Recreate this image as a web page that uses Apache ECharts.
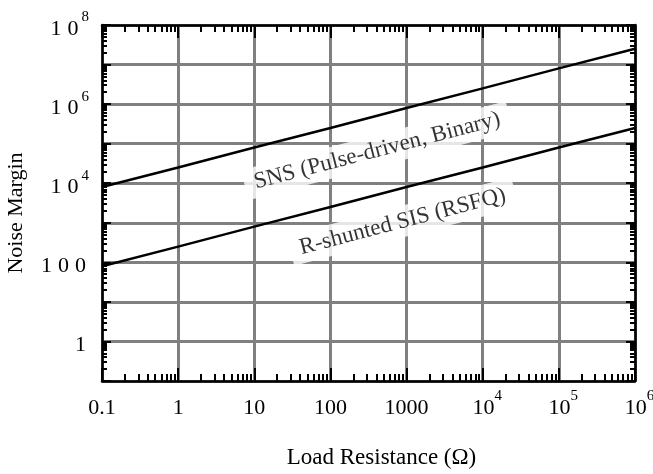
<!DOCTYPE html>
<html>
<head>
<meta charset="utf-8">
<script src="https://cdn.jsdelivr.net/npm/echarts@6/dist/echarts.min.js"></script>
<style>
html, body { margin: 0; padding: 0; background: #fff; }
#chart { width: 653px; height: 474px; }
</style>
</head>
<body>
<div id="chart"></div>
<script>
var resistance = [0.1, 1, 10, 100, 1000, 1e4, 1e5, 1e6];
var snsMargin = [8000, 25000, 80000, 250000, 800000, 2.5e6, 8e6, 2.5e7];
var sisMargin = [80, 250, 800, 2500, 8000, 25000, 80000, 250000];

var curveNames = ['SNS (Pulse-driven, Binary)', 'R-shunted SIS (RSFQ)'];
var curveLabelAt = [[410, 66000], [890, 1070]];

// tick labels per decade, first one is 10^-1
var xTickLabels = ['0.1', '1', '10', '100', '1000', '10^4', '10^5', '10^6'];
var yTickLabels = ['', '1', '', '100', '', '10^4', '', '10^6', '', '10^8'];
var minorSteps = [2, 3, 4, 5, 6, 7, 8, 9];

var font = 'Liberation Serif';

// minor log ticks, in log10 units for the overlay value axes
function minorTicks(fromExp, toExp) {
    var out = [];
    for (var e = fromExp; e < toExp; e++) {
        minorSteps.forEach(function (m) {
            out.push(e + Math.log10(m));
        });
    }
    return out;
}

function toRich(txt, digitStyle) {
    var parts = txt.split('^');
    var base = parts[0];
    var s = '';
    if (digitStyle == 'd') {
        for (var i = 0; i < base.length; i++) s += '{d|' + base[i] + '}';
    } else {
        if (parts[1]) s += '{g|}';
        s += '{n|' + base + '}';
    }
    if (parts[1]) s += '{sup|' + parts[1] + '}';
    return s;
}

function expOf(v) {
    return Math.round(Math.log10(v));
}

var tickLine = { color: '#000', width: 2 };
var frameLine = { show: true, onZero: false, lineStyle: { color: '#000', width: 2.5 } };

var xRich = {
    n: { fontFamily: font, fontSize: 22, color: '#000', lineHeight: 30, verticalAlign: 'bottom' },
    sup: { fontFamily: font, fontSize: 15, color: '#000', verticalAlign: 'top' },
    g: { width: 9 }
};
var yRich = {
    d: { fontFamily: font, fontSize: 22, color: '#000', width: 17, align: 'center', lineHeight: 30, verticalAlign: 'bottom' },
    sup: { fontFamily: font, fontSize: 15, color: '#000', verticalAlign: 'top' }
};

function logAxis(pos, min, max, labels, rich, digitStyle) {
    return {
        type: 'log',
        logBase: 10,
        min: min,
        max: max,
        splitNumber: 10,
        position: pos,
        axisLine: frameLine,
        axisTick: { show: true, inside: true, length: 13, lineStyle: tickLine },
        splitLine: { show: false },
        axisLabel: labels ? {
            show: true,
            showMinLabel: true,
            showMaxLabel: true,
            rich: rich,
            formatter: function (v) {
                var t = labels[expOf(v) - expOf(min)];
                return t ? toRich(t, digitStyle) : '';
            }
        } : { show: false }
    };
}

function minorAxis(pos, fromExp, toExp) {
    return {
        type: 'value',
        min: fromExp,
        max: toExp,
        position: pos,
        axisLine: { show: false, onZero: false },
        axisTick: { show: true, inside: true, length: 7, customValues: minorTicks(fromExp, toExp), lineStyle: tickLine },
        axisLabel: { show: false },
        splitLine: { show: false }
    };
}

var xMain = logAxis('bottom', 0.1, 1e6, xTickLabels, xRich, 'n');
xMain.axisLabel.margin = 8;
xMain.splitLine = { show: true, lineStyle: { color: '#808080', width: 3 } };
xMain.name = 'Load Resistance (\u03A9)';
xMain.nameLocation = 'middle';
xMain.nameGap = 65;
xMain.nameTextStyle = { fontFamily: font, fontSize: 23, color: '#000', padding: [0, 0, 0, 26] };

var yMain = logAxis('left', 0.1, 1e8, yTickLabels, yRich, 'd');
yMain.axisLabel.margin = 13;
yMain.axisTick.length = 9;
yMain.splitLine = { show: true, lineStyle: { color: '#808080', width: 3 } };
yMain.name = 'Noise Margin';
yMain.nameLocation = 'middle';
yMain.nameGap = 73;
yMain.nameTextStyle = { fontFamily: font, fontSize: 22, color: '#000', padding: [0, 20, 0, 0] };

var yRight = logAxis('right', 0.1, 1e8, null);
yRight.axisTick.length = 9;
var yMinorL = minorAxis('left', -1, 8);
var yMinorR = minorAxis('right', -1, 8);
yMinorL.axisTick.length = 5;
yMinorR.axisTick.length = 5;

var chart = echarts.init(document.getElementById('chart'));
var option = {
    animation: false,
    backgroundColor: '#fff',
    grid: { left: 102, right: 18, top: 25, bottom: 93, containLabel: false, outerBoundsMode: 'none' },
    xAxis: [
        xMain,
        logAxis('top', 0.1, 1e6, null),
        minorAxis('bottom', -1, 6),
        minorAxis('top', -1, 6)
    ],
    yAxis: [yMain, yRight, yMinorL, yMinorR],
    series: [
        {
            type: 'line',
            name: curveNames[0],
            data: resistance.map(function (r, i) { return [r, snsMargin[i]]; }),
            symbol: 'none',
            lineStyle: { color: '#000', width: 2.5 }
        },
        {
            type: 'line',
            name: curveNames[1],
            data: resistance.map(function (r, i) { return [r, sisMargin[i]]; }),
            symbol: 'none',
            lineStyle: { color: '#000', width: 2.5 }
        },
        {
            type: 'scatter',
            symbolSize: 0,
            z: 5,
            data: curveLabelAt.map(function (p, i) { return { name: curveNames[i], value: p }; }),
            label: {
                show: true,
                position: 'inside',
                formatter: '{b}',
                rotate: 14.6,
                fontFamily: font,
                fontSize: 23,
                color: '#000',
                backgroundColor: '#fff',
                padding: [4, 10]
            }
        }
    ]
};
chart.setOption(option);
</script>
</body>
</html>
